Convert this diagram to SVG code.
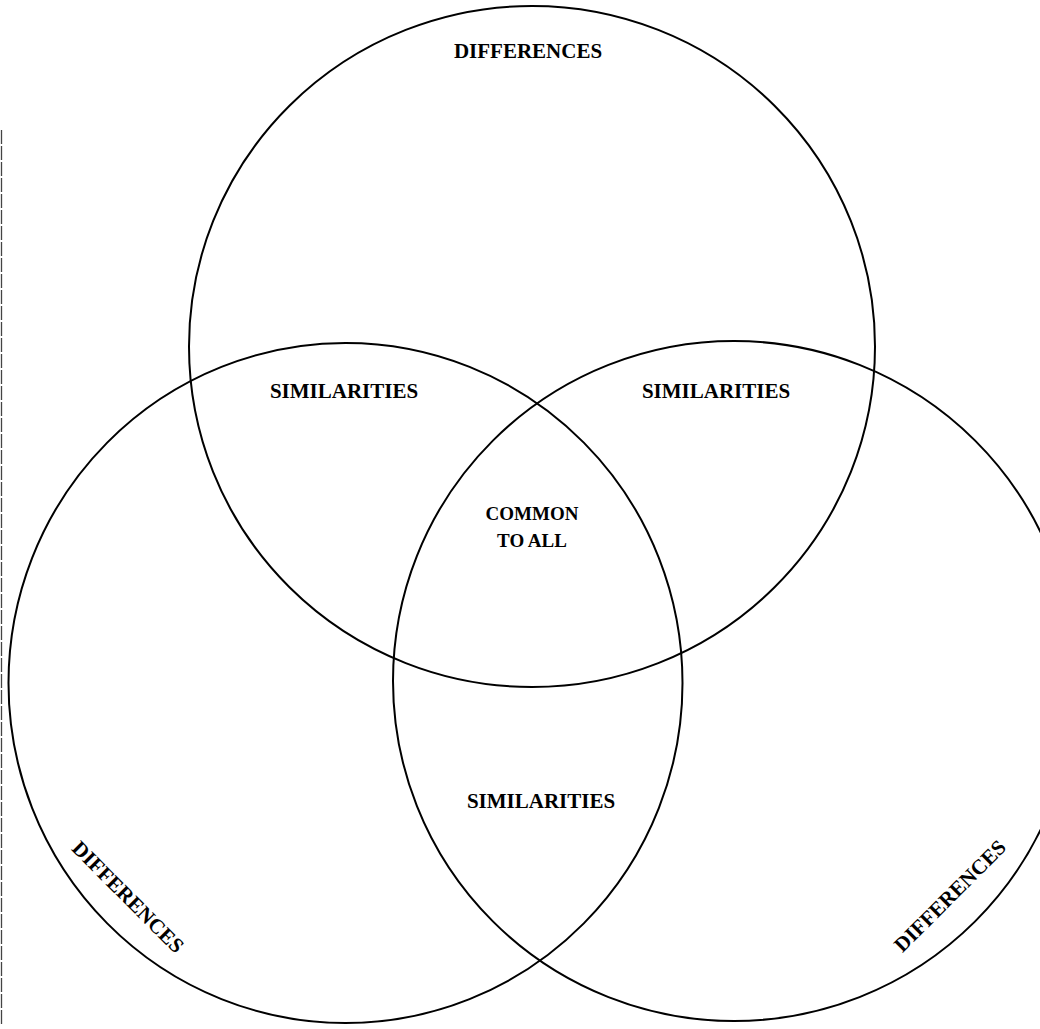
<svg xmlns="http://www.w3.org/2000/svg" width="1040" height="1029" viewBox="0 0 1040 1029">
<style>
.c{fill:none;stroke:#000;stroke-width:2}
.t{font-family:"Liberation Serif","Times New Roman",serif;font-weight:bold;font-size:21px;fill:#000;text-anchor:middle}
.s{font-size:19px}
</style>
<rect width="1040" height="1029" fill="#fff"/>
<line x1="1.5" y1="130" x2="1.5" y2="1025" stroke="#444" stroke-width="1.3" stroke-dasharray="14 2"/>
<g id="circle-top">
<ellipse class="c" cx="532" cy="346.5" rx="343" ry="340.5"/>
<text class="t" x="528" y="58">DIFFERENCES</text>
</g>
<g id="circle-left">
<ellipse class="c" cx="345.5" cy="683" rx="337" ry="340"/>
<text class="t" transform="translate(128,897) rotate(45)" y="7">DIFFERENCES</text>
</g>
<g id="circle-right">
<ellipse class="c" cx="734" cy="681" rx="341" ry="340"/>
<text class="t" transform="translate(950,896) rotate(-45)" y="7">DIFFERENCES</text>
</g>
<g id="overlap-top-left"><text class="t" x="344" y="398">SIMILARITIES</text></g>
<g id="overlap-top-right"><text class="t" x="716" y="398">SIMILARITIES</text></g>
<g id="overlap-bottom"><text class="t" x="541" y="808">SIMILARITIES</text></g>
<g id="center"><text class="t s" x="532" y="520">COMMON</text><text class="t s" x="532" y="547">TO ALL</text></g>
<g id="connectors"/>
</svg>
